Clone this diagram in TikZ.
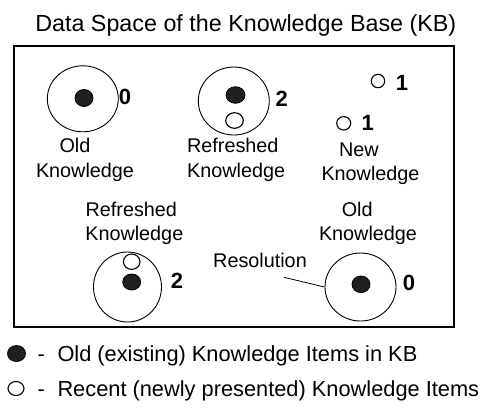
\documentclass[tikz,border=0pt]{standalone}
\usepackage{fontspec}
\setmainfont{Liberation Sans}
\usetikzlibrary{shapes.geometric}
\tikzset{
  lbl/.style={anchor=base, inner sep=0pt, font=\fontsize{19.8}{24}\selectfont},
  num/.style={anchor=base, inner sep=0pt, font=\fontsize{22}{26}\selectfont\bfseries},
  title/.style={anchor=base, inner sep=0pt, font=\fontsize{23.3}{28}\selectfont},
  leg/.style={anchor=base west, inner sep=0pt, font=\fontsize{21.8}{26}\selectfont},
  ring/.style={ellipse, draw=black, line width=0.9pt, inner sep=0pt},
  solid dot/.style={ellipse, draw=black, fill=black!88, line width=0.8pt, inner sep=0pt},
  open dot/.style={ellipse, draw=black, fill=white, line width=1.1pt, inner sep=0pt},
  frame/.style={draw=black, line width=1.6pt},
  leader/.style={draw=black, line width=0.8pt}
}
\begin{document}
\begin{tikzpicture}[x=1pt, y=-1pt]
\useasboundingbox (0,0) rectangle (486,408);
% title
\node[title] (ttl) at (245.8,31.6) {Data Space of the Knowledge Base (KB)};
% frame
\node[frame, minimum width=440pt, minimum height=281pt, inner sep=0pt] (kb) at (234,186.5) {};
% group 1: old knowledge
\node[ring, minimum width=71pt, minimum height=66pt] (c1) at (82.8,98.8) {};
\node[solid dot, minimum width=18pt, minimum height=17pt] (c1d) at (84,98) {};
\node[num] (n1) at (125,104.5) {0};
\node[lbl] (l1a) at (75,152) {Old};
\node[lbl] (l1b) at (85,177) {Knowledge};
% group 2: refreshed
\node[ring, minimum width=71pt, minimum height=68pt] (c2) at (233.8,101) {};
\node[solid dot, minimum width=19pt, minimum height=16.6pt] (c2d) at (235.5,95) {};
\node[open dot, minimum width=17.6pt, minimum height=15.6pt] (c2o) at (234.5,120.5) {};
\node[num] (n2) at (281.7,106) {2};
\node[lbl] (l2a) at (232.8,152) {Refreshed};
\node[lbl] (l2b) at (236.2,177) {Knowledge};
% group 3: new
\node[open dot, minimum width=13.4pt, minimum height=13.4pt] (s1) at (378,81) {};
\node[num] (n3) at (402,90.5) {1};
\node[open dot, minimum width=14pt, minimum height=13.4pt] (s2) at (343.7,123.3) {};
\node[num] (n4) at (367.7,130) {1};
\node[lbl] (l3a) at (358.8,156) {New};
\node[lbl] (l3b) at (370.5,180) {Knowledge};
% group 4: refreshed (bottom)
\node[lbl] (l4a) at (131.3,216.4) {Refreshed};
\node[lbl] (l4b) at (134.3,240.4) {Knowledge};
\node[ring, minimum width=68pt, minimum height=70pt] (c3) at (127.5,287) {};
\node[open dot, minimum width=16.6pt, minimum height=15.4pt] (c3o) at (131.7,261.7) {};
\node[solid dot, minimum width=18pt, minimum height=16pt] (c3d) at (131.7,282) {};
\node[num] (n5) at (177,288.5) {2};
% group 5: old (bottom) with resolution
\node[lbl] (l5a) at (357.2,216.4) {Old};
\node[lbl] (l5b) at (368,240.4) {Knowledge};
\node[ring, minimum width=71pt, minimum height=68pt] (c4) at (360.5,287) {};
\node[solid dot, minimum width=18pt, minimum height=16.6pt] (c4d) at (361,284.3) {};
\node[num] (n6) at (409,290.5) {0};
\node[lbl] (res) at (260,267.8) {Resolution};
\coordinate (resstart) at (284,277.3);
\draw[leader] (resstart) -- (c4.west);
% legend
\node[solid dot, minimum width=18pt, minimum height=16pt] (k1) at (16.5,353.5) {};
\node[leg] (k1dash) at (37.5,361) {-};
\node[leg] (k1t) at (57.3,361) {Old (existing) Knowledge Items in KB};
\node[open dot, minimum width=16pt, minimum height=14pt] (k2) at (16,388.5) {};
\node[leg] (k2dash) at (37.5,396) {-};
\node[leg] (k2t) at (57.3,396) {Recent (newly presented) Knowledge Items};
\end{tikzpicture}
\end{document}
